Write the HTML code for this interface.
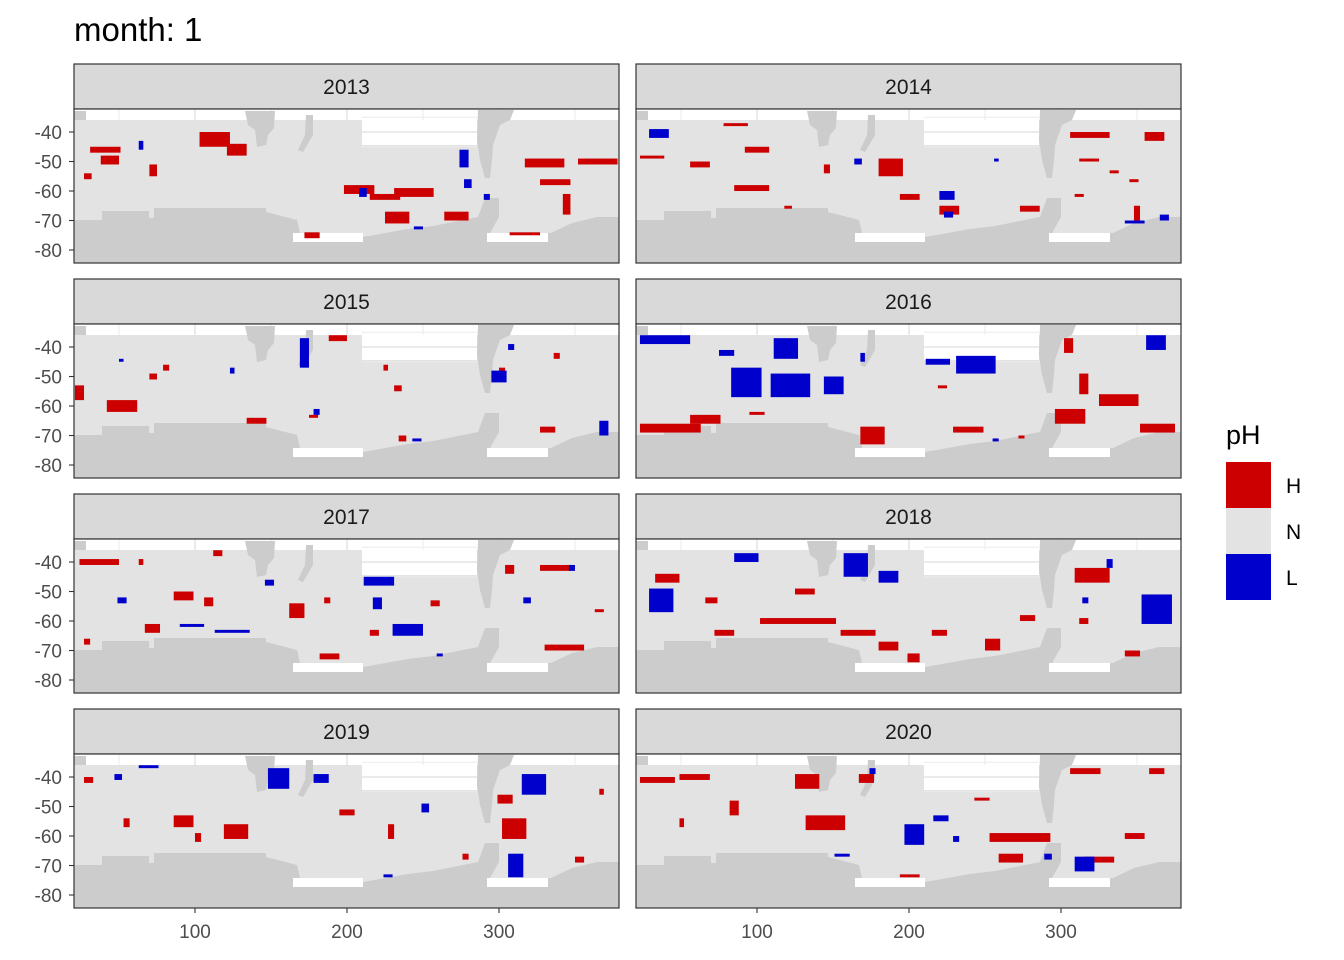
<!DOCTYPE html>
<html><head><meta charset="utf-8"><style>
body{margin:0;background:#fff}
svg{display:block;font-family:"Liberation Sans",sans-serif}
</style></head><body>
<svg id="chart" width="1344" height="960" viewBox="0 0 1344 960">
<text x="74" y="41" font-size="33" fill="#000">month: 1</text>
<g id="panels"></g>
<g>
<text x="1226" y="444" font-size="27" fill="#000">pH</text>
<rect x="1226" y="462" width="45" height="46" fill="#cc0000"/>
<rect x="1226" y="508" width="45" height="46" fill="#e3e3e3"/>
<rect x="1226" y="554" width="45" height="46" fill="#0000cc"/>
<text x="1286" y="493" font-size="21">H</text>
<text x="1286" y="539" font-size="21">N</text>
<text x="1286" y="585" font-size="21">L</text>
</g>
</svg>
<script>
const years = ["2013","2014","2015","2016","2017","2018","2019","2020"];
const yTicks = [-40,-50,-60,-70,-80];
const xTicks = [100,200,300];
// cells: [lon, northern lat, width deg, height deg]
const high2013=[[103,-40,20,5],[121,-44,13,4],[31,-45,20,2],[38,-48,12,3],[70,-51,5,4],[27,-54,5,2],[198,-58,20,3],[215,-61,20,2],[231,-59,26,3],[225,-67,16,4],[264,-67,16,3],[317,-49,26,3],[352,-49,26,2],[327,-56,20,2],[342,-61,5,7],[172,-74,10,2],[307,-74,20,1]];
const low2013=[[63,-43,3,3],[274,-46,6,6],[277,-56,5,3],[208,-59,5,3],[244,-72,6,1],[290,-61,4,2]];
const high2014=[[180,-49,16,6],[23,-48,16,1],[56,-50,13,2],[92,-45,16,2],[85,-58,23,2],[220,-65,13,3],[306,-40,26,2],[355,-40,13,3],[312,-49,13,1],[332,-53,6,1],[345,-56,6,1],[309,-61,6,1],[273,-65,13,2],[118,-65,5,1],[194,-61,13,2],[78,-37,16,1],[348,-65,4,5],[144,-51,4,3]];
const low2014=[[220,-60,10,3],[29,-39,13,3],[223,-67,6,2],[342,-70,13,1],[365,-68,6,2],[164,-49,5,2],[256,-49,3,1]];
const high2015=[[42,-58,20,4],[21,-53,6,5],[134,-64,13,2],[188,-36,12,2],[231,-53,5,2],[327,-67,10,2],[234,-70,5,2],[70,-49,5,2],[79,-46,4,2],[175,-63,6,1],[224,-46,3,2],[300,-47,4,2],[336,-42,4,2]];
const low2015=[[169,-37,6,10],[295,-48,10,4],[306,-39,4,2],[366,-65,6,5],[178,-61,4,2],[243,-71,6,1],[50,-44,3,1],[123,-47,3,2]];
const high2016=[[23,-66,40,3],[56,-63,20,3],[95,-62,10,1],[168,-67,16,6],[229,-67,20,2],[312,-49,6,7],[325,-56,26,4],[296,-61,20,5],[352,-66,23,3],[219,-53,6,1],[302,-37,6,5],[272,-70,4,1]];
const low2016=[[23,-36,33,3],[111,-37,16,7],[83,-47,20,10],[109,-49,26,8],[144,-50,13,6],[211,-44,16,2],[231,-43,26,6],[356,-36,13,5],[75,-41,10,2],[168,-42,3,3],[255,-71,4,1]];
const high2017=[[24,-39,26,2],[63,-39,3,2],[86,-50,13,3],[106,-52,6,3],[67,-61,10,3],[112,-36,6,2],[162,-54,10,5],[182,-71,13,2],[215,-63,6,2],[255,-53,6,2],[304,-41,6,3],[327,-41,20,2],[330,-68,26,2],[363,-56,6,1],[27,-66,4,2],[185,-52,4,2]];
const low2017=[[211,-45,20,3],[217,-52,6,4],[230,-61,20,4],[90,-61,16,1],[113,-63,23,1],[49,-52,6,2],[146,-46,6,2],[316,-52,5,2],[346,-41,4,2],[259,-71,4,1]];
const high2018=[[309,-42,23,5],[102,-59,50,2],[72,-63,13,2],[155,-63,23,2],[180,-67,13,3],[250,-66,10,4],[33,-44,16,3],[66,-52,8,2],[125,-49,13,2],[273,-58,10,2],[312,-59,6,2],[215,-63,10,2],[199,-71,8,3],[342,-70,10,2]];
const low2018=[[157,-37,16,8],[180,-43,13,4],[29,-49,16,8],[353,-51,20,10],[85,-37,16,3],[330,-39,4,3],[314,-52,4,2]];
const high2019=[[119,-56,16,5],[86,-53,13,4],[302,-54,16,7],[299,-46,10,3],[227,-56,4,5],[195,-51,10,2],[27,-40,6,2],[53,-54,4,3],[100,-59,4,3],[276,-66,4,2],[350,-67,6,2],[366,-44,3,2]];
const low2019=[[148,-37,14,7],[178,-39,10,3],[315,-39,16,7],[249,-49,5,3],[306,-66,10,8],[47,-39,5,2],[63,-36,13,1],[224,-73,6,1]];
const high2020=[[23,-40,23,2],[49,-39,20,2],[125,-39,16,5],[82,-48,6,5],[132,-53,26,5],[167,-39,10,3],[306,-37,20,2],[358,-37,10,2],[253,-59,40,3],[259,-66,16,3],[342,-59,13,2],[243,-47,10,1],[194,-73,13,1],[315,-67,20,2],[49,-54,3,3]];
const low2020=[[197,-56,13,7],[216,-53,10,2],[309,-67,13,5],[151,-66,10,1],[289,-66,5,2],[174,-37,4,2],[229,-60,4,2]];
const highSets=[high2013,high2014,high2015,high2016,high2017,high2018,high2019,high2020];
const lowSets=[low2013,low2014,low2015,low2016,low2017,low2018,low2019,low2020];

const NS="http://www.w3.org/2000/svg";
const PW=545, PH=154, lefts=[74,636], tops=[109,324,539,754];
const LON0=20.4, LAT0=-32.2, KX=1.52, KY=2.95;
function sx(lon){return (lon-LON0)*KX;}
function sy(lat){return (LAT0-lat)*KY;}
function mk(tag,attrs,parent){const e=document.createElementNS(NS,tag);for(const k in attrs)e.setAttribute(k,attrs[k]);parent.appendChild(e);return e;}
const root=document.getElementById('panels');
years.forEach((yr,i)=>{
  const L=lefts[i%2], T=tops[Math.floor(i/2)];
  const g=mk('g',{transform:`translate(${L},${T})`},root);
  
  
  mk('rect',{x:0,y:-45,width:PW,height:45,fill:'#d9d9d9',stroke:'#333','stroke-width':1.2},g);
  const st=mk('text',{x:PW/2,y:-15,'font-size':21,'text-anchor':'middle',fill:'#1a1a1a'},g);
  st.textContent=yr;
  
  
  mk('rect',{x:0,y:0,width:PW,height:PH,fill:'#fff'},g);
  mk('rect',{x:0,y:11,width:PW,height:PH-11,fill:'#e3e3e3'},g);
  mk('rect',{x:288,y:0,width:115,height:36,fill:'#fff'},g);
  // grid lines visible on white areas
  [-35,-40,-45].forEach(v=>mk('line',{x1:288,x2:403,y1:sy(v),y2:sy(v),stroke:'#ebebeb','stroke-width':v%10?1:2},g));
  [50,100,150,200,250,300,350].forEach(v=>mk('line',{x1:sx(v),x2:sx(v),y1:0,y2:11,stroke:'#ebebeb','stroke-width':v%100?1:2},g));
  mk('rect',{x:219,y:124,width:70,height:10,fill:'#fff'},g);
  mk('rect',{x:413,y:124,width:61,height:10,fill:'#fff'},g);
  const land='#cccccc';
  mk('polygon',{points:'0,111 28,111 28,102 75,102 75,109 80,109 80,99 192,99 192,103 223,111 226,124 219,124 219,133 289,133 289,128 334,120 359,117 404,108 411,89 425,89 425,108 416,124 413,124 413,133 474,133 474,124 477,124 498,114 523,108 545,108 545,154 0,154',fill:land},g);
  mk('polygon',{points:'171,2 201,2 200,19 194,26 192,36 183,38 181,21 174,16',fill:land},g);
  mk('polygon',{points:'232,6 239,6 239,26 229,43 224,41 231,26',fill:land},g);
  mk('polygon',{points:'404,1 440,1 436,11 426,16 419,36 418,51 416,69 411,69 406,51 403,31',fill:land},g);
  mk('rect',{x:0,y:2,width:12,height:9,fill:land},g);
  highSets[i].forEach(c=>{
    const r=mk('rect',{x:sx(c[0]),y:sy(c[1]),width:c[2]*KX,height:c[3]*KY,fill:'#cc0000'},g);
    
    
  });
  lowSets[i].forEach(c=>{
    const r=mk('rect',{x:sx(c[0]),y:sy(c[1]),width:c[2]*KX,height:c[3]*KY,fill:'#0000cc'},g);
    
    
  });
  mk('rect',{x:0,y:0,width:PW,height:PH,fill:'none',stroke:'#333','stroke-width':1.2},g);
  if(i%2===0){
    yTicks.forEach(v=>{
      mk('line',{x1:-5,x2:0,y1:sy(v),y2:sy(v),stroke:'#333','stroke-width':1.1},g);
      const t=mk('text',{x:-12,y:sy(v)+7,'font-size':19,'text-anchor':'end',fill:'#4d4d4d'},g);
      t.textContent=String(v);
      
      
    });
  }
  if(i>=6){
    xTicks.forEach(v=>{
      mk('line',{x1:sx(v),x2:sx(v),y1:PH,y2:PH+5,stroke:'#333','stroke-width':1.1},g);
      const t=mk('text',{x:sx(v),y:PH+30,'font-size':19,'text-anchor':'middle',fill:'#4d4d4d'},g);
      t.textContent=String(v);
      
      
    });
  }
});
</script>
</body></html>
